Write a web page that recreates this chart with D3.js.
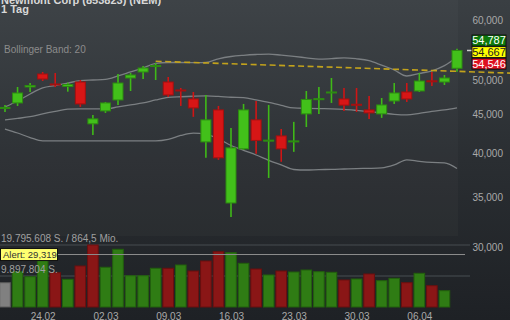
<!DOCTYPE html>
<html>
  <head>
    <meta charset="utf-8">
    <title>Newmont Corp</title>
    <script src="https://d3js.org/d3.v7.min.js"></script>
    <style>
      body { margin: 0; background: #1e2125; }
      svg { display: block; font-family: "Liberation Sans", Arial, sans-serif; }
      .tick text { fill: #a9a9a9; font-size: 10px; }
    </style>
  </head>
  <body>
    <svg id="chart" width="510" height="320"></svg>
    <script>
      // data
      dates = ["19.02", "20.02", "21.02", "24.02", "25.02", "26.02", "27.02", "28.02",
        "02.03", "03.03", "04.03", "05.03", "06.03", "09.03", "10.03", "11.03", "12.03", "13.03",
        "16.03", "17.03", "18.03", "19.03", "20.03", "23.03", "24.03", "25.03", "26.03", "27.03",
        "30.03", "31.03", "01.04", "02.04", "03.04", "06.04", "07.04", "08.04", "09.04"];
      open =  [45802, 46574, 48900, 50880, 49348, 48975, 49650, 43696, 45455, 47001, 50262, 51193,
        52057, 49650, 48456, 47144, 41350, 45594, 34316, 40482, 44229, 41476, 42115, 41413,
        45043, 47101, 48088, 47144, 46390, 45594, 45043, 46858, 48161, 48308, 49832, 49650, 51775];
      high =  [46292, 48900, 49498, 51193, 51037, 49544, 49955, 44906, 46716, 50880, 51037, 52136,
        52620, 50416, 48752, 48161, 47723, 46151, 43148, 46433, 46858, 46292, 43017, 43962,
        48308, 48900, 50262, 48752, 48752, 47578, 47288, 49498, 49498, 51037, 51193, 50725, 54950];
      low =   [45317, 46151, 48161, 49802, 48900, 48205, 46011, 42243, 45180, 46292, 48308, 50107,
        49955, 47433, 46151, 44634, 39390, 39151, 32883, 40359, 39871, 37040, 38914, 40114,
        43279, 45043, 46574, 45455, 45317, 44364, 44499, 46433, 46716, 48161, 49050, 49198, 51239];
      close = [45941, 48015, 49124, 50107, 49198, 49273, 46433, 44364, 46574, 49498, 50725, 51820,
        52215, 47723, 48308, 45871, 44229, 39390, 40605, 45594, 41539, 41577, 40482, 41476,
        47072, 47187, 48161, 46264, 46306, 45180, 46292, 48015, 47144, 49802, 49726, 50262, 54667];
      volume = [7760000, 11270000, 9670000, 14780000, 10950000, 8840000, 13090000, 19795608,
        12680000, 18420000, 9990000, 9990000, 12360000, 12360000, 13410000, 11490000, 14690000,
        17660000, 17340000, 13950000, 12130000, 10220000, 11490000, 11170000, 11810000, 11270000,
        11080000, 8620000, 8940000, 10540000, 8400000, 9160000, 7760000, 10760000, 6800000, 5200000, null];
      bandUpper = [46011, 46858, 47869, 48752, 49124, 49498, 49848, 49955, 50047, 50571, 51193, 51820,
        52540, 52700, 52700, 52684, 52700, 53298, 53670, 53868, 54000, 54070, 53890, 53690,
        53460, 53235, 53330, 53460, 53298, 52987, 52266, 51506, 50571, 50960, 51380, 52190, 53590];
      bandMiddle = [44229, 44430, 44660, 45043, 45386, 45704, 45732, 45732, 45732, 46011, 46292, 46574,
        47001, 47360, 47462, 47535, 47578, 47506, 47390, 47331, 47001, 46645, 46236, 45871,
        45815, 45774, 45746, 45676, 45525, 45345, 45180, 44988, 44906, 45112, 45386, 45594, 45871];
      bandLower = [43017, 42490, 41910, 41476, 41476, 41476, 41476, 41476, 41476, 41476, 41476, 41476,
        41476, 41665, 42170, 42465, 42300, 41730, 40900, 40300, 39730, 39090, 38540, 38010,
        37950, 38000, 38020, 38070, 38120, 38140, 38190, 38540, 39151, 38970, 38840, 38790, 38130];
      trendline = [{ date: "06.03", price: 52900 }, { date: "08.04", price: 51360 }];
      // 55,000 sits behind the quote boxes, so it is left out
      priceTicks = [30000, 35000, 40000, 45000, 50000, 60000];
      dateTicks = ["24.02", "02.03", "09.03", "16.03", "23.03", "30.03", "06.04"];
      quotes = [
        { label: "54,787", fill: "#0c7a0c", text: "#ffffff" },
        { label: "54,667", fill: "#ffff00", text: "#222222" },
        { label: "54,546", fill: "#dd1020", text: "#ffffff" }
      ];
      alertPrice = 29319;
      volumeMax = 19795608;
      volumeLabels = ["19.795.608 S. / 864,5 Mio.", "9.897.804 S."];

      // page elements
      width = 510;
      height = 320;
      chart = d3.select("#chart");
      defs = chart.append("defs");
      grad = defs.append("linearGradient")
        .attr("id", "bg")
        .attr("x1", 0).attr("y1", 0).attr("x2", 0).attr("y2", 1);
      grad.append("stop").attr("offset", "0%").attr("stop-color", "#3a3f43");
      grad.append("stop").attr("offset", "50%").attr("stop-color", "#2a2e32");
      grad.append("stop").attr("offset", "100%").attr("stop-color", "#1e2125");
      chart.append("rect")
        .attr("width", width).attr("height", height)
        .attr("fill", "url(#bg)");
      // slightly lighter plot area
      chart.append("rect")
        .attr("width", 458).attr("height", 236)
        .attr("fill", "#ffffff").attr("opacity", 0.025);

      // scales
      x = d3.scaleLinear()
        .domain([0, dates.length - 1])
        .range([5, 457]);
      y = d3.scaleLog()
        .domain([30000, 60000])
        .range([247, 20]);
      v = d3.scaleLinear()
        .domain([0, volumeMax])
        .range([307, 245]);
      idx = function(d) { return dates.indexOf(d); };

      // volume panel
      volGroup = chart.append("g");
      volGroup.selectAll(".grid")
        .data([volumeMax, volumeMax / 2])
        .enter().append("line")
          .attr("x1", 0).attr("x2", 470)
          .attr("y1", function(d) { return v(d); })
          .attr("y2", function(d) { return v(d); })
          .attr("stroke", "#3b4045").attr("stroke-width", 1.5);
      volGroup.selectAll(".vol")
        .data(volume.map(function(d, i) { return { i: i, vol: d }; }).filter(function(d) { return d.vol != null; }))
        .enter().append("rect")
          .attr("x", function(d) { return x(d.i) - 5.3; })
          .attr("width", 10.6)
          .attr("y", function(d) { return v(d.vol); })
          .attr("height", function(d) { return v(0) - v(d.vol); })
          .attr("fill", function(d) {
            if (d.i === 0) return "#808080";
            return close[d.i] >= close[d.i - 1] ? "#2f7c14" : "#8a1616";
          })
          .attr("stroke", function(d) {
            if (d.i === 0) return "#5a5a5a";
            return close[d.i] >= close[d.i - 1] ? "#22600d" : "#6a0f0f";
          })
          .attr("stroke-width", 1);
      volGroup.selectAll(".volLabel")
        .data(volumeLabels)
        .enter().append("text")
          .attr("x", 1)
          .attr("y", function(d, i) { return v(volumeMax / (i + 1)) - 3; })
          .attr("fill", "#a0a0a0")
          .attr("font-size", "10px")
          .text(function(d) { return d; });

      // alert line
      chart.append("line")
        .attr("x1", 0).attr("x2", 465)
        .attr("y1", y(alertPrice)).attr("y2", y(alertPrice))
        .attr("stroke", "#8e8e8e").attr("stroke-width", 1);
      alertG = chart.append("g");
      alertG.append("rect")
        .attr("x", 0.5).attr("y", y(alertPrice) - 6)
        .attr("width", 57).attr("height", 12)
        .attr("fill", "#ffff70").attr("stroke", "#111");
      alertG.append("text")
        .attr("x", 3).attr("y", y(alertPrice) + 3.5)
        .attr("font-size", "9.5px").attr("fill", "#333")
        .text("Alert: " + d3.format(",")(alertPrice));

      // bollinger bands
      bandLine = d3.line()
        .x(function(d, i) { return x(i); })
        .y(function(d) { return y(d); })
        .curve(d3.curveMonotoneX);
      chart.selectAll(".band")
        .data([bandUpper, bandMiddle, bandLower])
        .enter().append("path")
          .attr("d", bandLine)
          .attr("fill", "none")
          .attr("stroke", "#7b7f82")
          .attr("stroke-width", 1.3);

      // trendline, extended to the right edge
      t0 = trendline[0];
      t1 = trendline[1];
      x0 = x(idx(t0.date)); y0 = y(t0.price);
      x1 = x(idx(t1.date)); y1 = y(t1.price);
      chart.append("line")
        .attr("x1", x0).attr("y1", y0)
        .attr("x2", width).attr("y2", y0 + (y1 - y0) * (width - x0) / (x1 - x0))
        .attr("stroke", "#c2a21c")
        .attr("stroke-width", 1.6)
        .attr("stroke-dasharray", "6,3.5");

      // candles
      candles = chart.selectAll(".candle")
        .data(dates.map(function(d, i) { return { i: i, o: open[i], h: high[i], l: low[i], c: close[i] }; }))
        .enter().append("g");
      up = function(d) { return d.c >= d.o; };
      candles.append("line")
        .attr("x1", function(d) { return x(d.i); })
        .attr("x2", function(d) { return x(d.i); })
        .attr("y1", function(d) { return y(d.h); })
        .attr("y2", function(d) { return y(d.l); })
        .attr("stroke", function(d) { return up(d) ? "#3fb918" : "#cf1515"; })
        .attr("stroke-width", 1.6);
      candles.append("rect")
        .attr("x", function(d) { return x(d.i) - 5; })
        .attr("width", 10)
        .attr("y", function(d) { return y(Math.max(d.o, d.c)); })
        .attr("height", function(d) { return Math.max(1, Math.abs(y(d.o) - y(d.c))); })
        .attr("fill", function(d) { return up(d) ? "#42c01a" : "#d71616"; })
        .attr("stroke", function(d) { return up(d) ? "#2c8c10" : "#a31010"; })
        .attr("stroke-width", 1);

      // axes
      yAxis = chart.append("g")
        .attr("transform", "translate(503,0)")
        .call(d3.axisLeft(y).tickValues(priceTicks).tickFormat(d3.format(",")).tickSize(0).tickPadding(0));
      yAxis.select(".domain").remove();
      yAxis.selectAll("text").attr("dy", "0.35em");
      xAxis = chart.append("g")
        .attr("transform", "translate(0,310)")
        .call(d3.axisBottom(x).tickValues(dateTicks.map(idx)).tickFormat(function(d) { return dates[d]; }).tickSize(0).tickPadding(3));
      xAxis.select(".domain").remove();

      // last price marker and quote boxes
      chart.append("line")
        .attr("x1", 467).attr("x2", 472)
        .attr("y1", y(close[close.length - 1])).attr("y2", y(close[close.length - 1]))
        .attr("stroke", "#cccccc").attr("stroke-width", 1.5);
      qBoxes = chart.selectAll(".quote")
        .data(quotes)
        .enter().append("g")
          .attr("transform", function(d, i) { return "translate(472," + (35 + i * 11.6) + ")"; });
      qBoxes.append("rect")
        .attr("width", 34).attr("height", 11)
        .attr("fill", function(d) { return d.fill; })
        .attr("stroke", "#111").attr("stroke-width", 1);
      qBoxes.append("text")
        .attr("x", 17).attr("y", 9.3)
        .attr("text-anchor", "middle")
        .attr("font-size", "11px")
        .attr("fill", function(d) { return d.text; })
        .text(function(d) { return d.label; });

      // titles
      chart.append("text")
        .attr("x", 1).attr("y", 3.5)
        .attr("font-size", "11px").attr("font-weight", "bold").attr("fill", "#d8d8d8")
        .text("Newmont Corp (853823) (NEM)");
      chart.append("text")
        .attr("x", 1).attr("y", 13)
        .attr("font-size", "11px").attr("font-weight", "bold").attr("fill", "#d8d8d8")
        .text("1 Tag");
      chart.append("text")
        .attr("x", 4).attr("y", 53)
        .attr("font-size", "10px").attr("fill", "#8c8c8c")
        .text("Bollinger Band: 20");
    </script>
  </body>
</html>
